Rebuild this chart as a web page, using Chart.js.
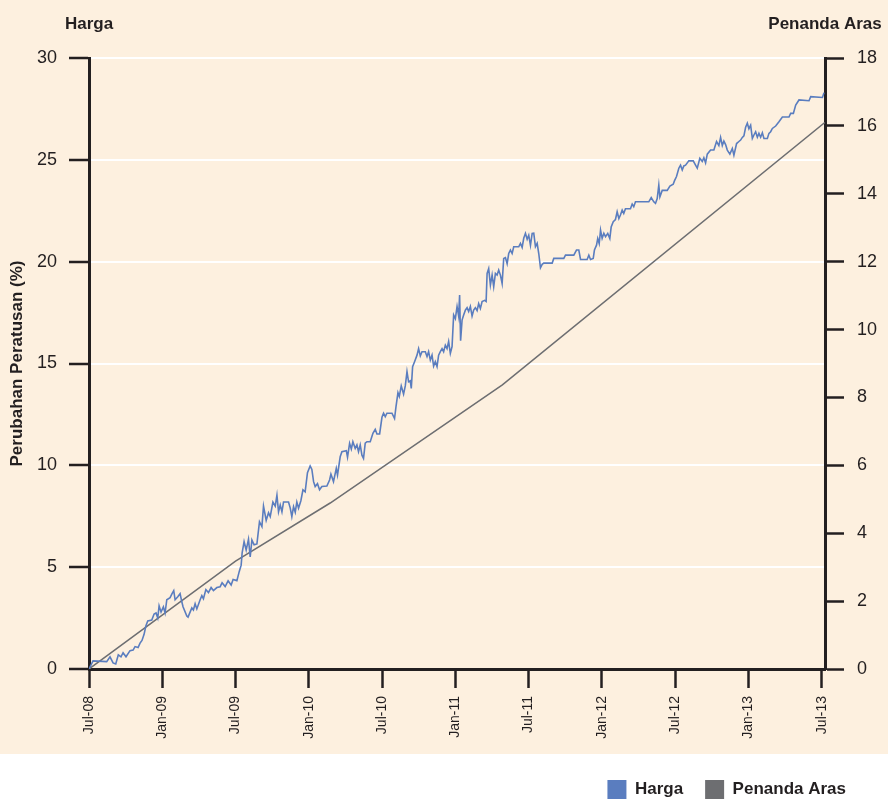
<!DOCTYPE html>
<html>
<head>
<meta charset="utf-8">
<script src="https://cdn.jsdelivr.net/npm/chart.js@4.4.0/dist/chart.umd.min.js"></script>
<style>
  html, body { margin: 0; padding: 0; background: #fff; }
  #wrap { width: 888px; height: 804px; }
</style>
</head>
<body>
<div id="wrap"><canvas id="chart" width="888" height="804"></canvas></div>
<script>
// Harga vs Penanda Aras, Jul-08 .. Jul-13

// x values are months since Jul-08
const tickLabels = ['Jul-08', 'Jan-09', 'Jul-09', 'Jan-10', 'Jul-10', 'Jan-11',
  'Jul-11', 'Jan-12', 'Jul-12', 'Jan-13', 'Jul-13'];

const hargaMonths = [
  0, 0.33, 1.45, 1.72, 1.97, 2.19, 2.40, 2.62, 2.79, 3.03, 3.36, 3.61, 3.77, 4.02, 4.18, 4.34,
  4.51, 4.65, 4.81, 5.14, 5.33, 5.49, 5.63, 5.74, 5.90, 6.09, 6.23, 6.37, 6.64, 6.80, 6.94, 7.05,
  7.27, 7.46, 7.60, 7.70, 8.01, 8.11, 8.42, 8.55, 8.69, 8.83, 9.10, 9.24, 9.37, 9.57, 9.78, 10.0,
  10.19, 10.47, 10.74, 10.90, 11.15, 11.39, 11.64, 11.80, 12.11, 12.30, 12.46, 12.54, 12.70, 12.87,
  13.06, 13.20, 13.34, 13.52, 13.75, 13.96, 14.16, 14.29, 14.51, 14.70, 14.84, 15.06, 15.25, 15.39,
  15.52, 15.66, 15.80, 15.93, 16.34, 16.48, 16.61, 16.75, 16.89, 17.02, 17.16, 17.35, 17.52, 17.70,
  17.89, 18.11, 18.25, 18.39, 18.52, 18.71, 18.88, 19.07, 19.48, 19.70, 19.81, 20.02, 20.25, 20.35,
  20.57, 20.71, 21.07, 21.17, 21.34, 21.48, 21.61, 21.80, 21.94, 22.07, 22.21, 22.35, 22.48, 22.62,
  22.76, 23.03, 23.25, 23.44, 23.58, 23.80, 23.99, 24.12, 24.26, 24.40, 24.81, 25.02, 25.14, 25.30,
  25.41, 25.57, 25.76, 25.90, 26.04, 26.17, 26.31, 26.39, 26.50, 26.66, 26.86, 26.99, 27.13, 27.27,
  27.54, 27.68, 27.81, 27.95, 28.09, 28.22, 28.36, 28.50, 28.63, 28.77, 28.91, 29.04, 29.18, 29.32,
  29.45, 29.59, 29.73, 29.86, 30.0, 30.14, 30.27, 30.35, 30.43, 30.55, 30.68, 30.82, 30.96, 31.09,
  31.23, 31.37, 31.50, 31.64, 31.78, 31.91, 32.05, 32.19, 32.40, 32.52, 32.60, 32.73, 32.87, 33.01,
  33.14, 33.28, 33.42, 33.55, 33.69, 33.83, 33.96, 34.10, 34.24, 34.37, 34.51, 34.65, 34.78, 35.19,
  35.33, 35.47, 35.60, 35.74, 35.88, 36.01, 36.15, 36.29, 36.42, 36.56, 36.70, 36.83, 36.97, 37.11,
  37.24, 37.93, 38.06, 38.88, 39.02, 39.70, 39.92, 40.11, 40.25, 40.79, 40.93, 41.07, 41.29, 41.39,
  41.56, 41.66, 41.78, 41.89, 42.02, 42.16, 42.30, 42.48, 42.65, 42.76, 42.93, 43.11, 43.25, 43.39,
  43.52, 43.66, 43.79, 43.93, 44.34, 44.48, 44.61, 44.75, 45.84, 46.04, 46.25, 46.39, 46.53, 46.66,
  46.75, 46.94, 47.35, 47.57, 47.84, 47.95, 48.11, 48.30, 48.44, 48.58, 48.71, 48.85, 49.12, 49.48,
  49.67, 49.81, 50.02, 50.22, 50.35, 50.49, 50.63, 50.90, 51.17, 51.39, 51.58, 51.72, 51.86, 51.99,
  52.13, 52.27, 52.48, 52.68, 52.81, 53.03, 53.22, 53.36, 53.50, 53.63, 53.77, 53.91, 54.04, 54.18,
  54.32, 54.45, 54.59, 54.73, 54.86, 55.0, 55.14, 55.27, 55.55, 55.68, 55.82, 55.96, 56.23, 56.50,
  56.78, 57.32, 57.46, 57.68, 57.87, 58.14, 58.96, 59.10, 60.06, 60.19
];

const hargaValues = [
  0, 0.4, 0.36, 0.6, 0.3, 0.25, 0.7, 0.6, 0.8, 0.6, 0.9, 0.93, 1.1, 1.05, 1.27, 1.4,
  1.7, 2.1, 2.36, 2.4, 2.7, 2.75, 2.5, 3.1, 2.8, 3.05, 2.75, 3.4, 3.5, 3.7, 3.85, 3.4,
  3.55, 3.7, 3.3, 3.06, 2.6, 2.55, 3.0, 2.9, 3.2, 2.95, 3.4, 3.6, 3.45, 3.9, 3.75, 4.0,
  3.85, 4.0, 4.04, 4.24, 4.05, 4.33, 4.12, 4.4, 4.34, 4.78, 5.1, 5.7, 6.25, 5.84,
  6.37, 5.5, 6.33, 6.1, 6.14, 7.23, 6.99, 8.0, 7.3, 7.67, 7.48, 8.2, 8.0, 8.54,
  7.72, 8.05, 7.72, 8.2, 8.2, 7.9, 7.48, 7.97, 7.7, 8.2, 7.9, 8.26, 8.8, 8.7,
  9.64, 9.97, 9.8, 9.2, 8.96, 9.1, 8.8, 8.96, 8.98, 9.28, 9.57, 9.2, 9.85, 9.52,
  10.42, 10.67, 10.72, 10.4, 11.08, 10.8, 11.16, 10.83, 11.0, 10.67, 11.0, 10.5, 10.34, 11.09,
  11.16, 11.16, 11.57, 11.77, 11.54, 11.54, 12.36, 12.56, 12.39, 12.56, 12.56, 12.3, 12.88, 13.57,
  13.38, 13.9, 13.5, 13.9, 14.6, 14.1, 14.15, 13.78, 14.84, 15.09, 15.41, 15.73, 15.37, 15.58,
  15.58, 15.34, 15.58, 15.17, 15.41, 14.87, 15.09, 14.85, 15.41, 15.58, 15.73, 15.58, 15.9, 15.73,
  16.08, 15.5, 15.83, 17.38, 17.2, 17.8, 17.33, 18.36, 16.12, 17.13, 17.38, 17.62, 17.74, 17.55,
  17.8, 17.33, 17.62, 17.74, 17.6, 17.94, 17.7, 18.04, 18.1, 18.05, 19.42, 19.66, 18.85, 19.34,
  18.77, 19.42, 19.34, 19.59, 19.34, 18.93, 20.16, 20.2, 19.9, 20.4, 20.57, 20.4, 20.73, 20.73,
  20.9, 20.7, 21.15, 21.39, 21.1, 21.3, 20.8, 21.39, 21.4, 20.74, 20.9, 20.4, 19.7, 19.87,
  19.93, 19.93, 20.16, 20.16, 20.32, 20.32, 20.57, 20.57, 20.11, 20.11, 20.32, 20.11, 20.16, 20.57,
  20.81, 21.14, 20.89, 21.55, 21.14, 21.39, 21.23, 21.39, 21.14, 21.7, 21.96, 22.07, 22.45, 22.12,
  22.29, 22.53, 22.37, 22.6, 22.6, 22.83, 22.7, 22.94, 22.94, 23.15, 22.94, 22.86, 23.1, 23.76,
  23.18, 23.5, 23.5, 23.71, 23.8, 23.98, 24.18, 24.59, 24.74, 24.5, 24.7, 24.74, 24.95, 24.95,
  24.74, 24.59, 25.08, 24.92, 25.1, 24.85, 25.28, 25.48, 25.48, 25.9, 25.7, 26.1, 25.7, 25.92,
  25.75, 25.48, 25.28, 25.56, 25.23, 25.8, 25.9, 25.97, 26.1, 26.18, 26.6, 26.8, 26.53, 26.7,
  26.05, 26.22, 26.38, 26.11, 26.3, 26.11, 26.33, 26.05, 26.05, 26.3, 26.38, 26.54, 26.66, 26.87,
  27.1, 27.1, 27.28, 27.28, 27.69, 27.94, 27.9, 28.1, 28.06, 28.3
];

// Penanda Aras is read on the right axis (0-18)
const benchMonths = [0, 12, 19.75, 33.85, 60.25];
const benchValues = [0, 3.18, 4.89, 8.37, 16.1];

const INK = '#231f20';
const CREAM = '#fdf0df';
const BLUE = '#5a7dbf';
const GREY = '#6d6e71';
const FONT = '"Liberation Sans", Arial, sans-serif';

Chart.defaults.font.family = FONT;
Chart.defaults.color = INK;

const toPoints = (xs, ys) => xs.map((x, i) => ({ x, y: ys[i] }));

// cream panel, white strip for the legend, and the two captions over the axes
const framePlugin = {
  id: 'frame',
  beforeDraw(chart) {
    const { ctx, width, height } = chart;
    ctx.save();
    ctx.fillStyle = '#fff';
    ctx.fillRect(0, 0, width, height);
    ctx.fillStyle = CREAM;
    ctx.fillRect(0, 0, width, 754);
    ctx.restore();
  },
  afterLayout(chart) {
    // legend sits a little lower and away from the right edge
    const lg = chart.legend;
    lg.right -= 20;
    lg.top += 5;
    lg.bottom += 5;
  },
  afterDraw(chart) {
    const { ctx, scales } = chart;
    ctx.save();
    ctx.font = 'bold 17px ' + FONT;
    ctx.fillStyle = INK;
    ctx.textAlign = 'center';
    ctx.textBaseline = 'alphabetic';
    ctx.fillText('Harga', scales.y.right, 29);
    ctx.fillText('Penanda Aras', scales.y1.left, 29);
    ctx.restore();
  },
};

new Chart(document.getElementById('chart'), {
  type: 'line',
  data: {
    datasets: [
      {
        label: 'Harga',
        data: toPoints(hargaMonths, hargaValues),
        yAxisID: 'y',
        borderColor: BLUE,
        backgroundColor: BLUE,
        borderWidth: 1.6,
        pointRadius: 0,
        tension: 0,
      },
      {
        label: 'Penanda Aras',
        data: toPoints(benchMonths, benchValues),
        yAxisID: 'y1',
        borderColor: GREY,
        backgroundColor: GREY,
        borderWidth: 1.5,
        pointRadius: 0,
        tension: 0,
      },
    ],
  },
  options: {
    responsive: false,
    animation: false,
    devicePixelRatio: 1,
    layout: { padding: { top: 58, left: 0, right: 0, bottom: 0 } },
    scales: {
      x: {
        type: 'linear',
        min: 0,
        max: 60.27,
        border: { color: INK, width: 3 },
        grid: { drawOnChartArea: false, tickLength: 19, tickColor: INK, tickWidth: 2.5 },
        ticks: {
          stepSize: 6,
          includeBounds: false,
          autoSkip: false,
          minRotation: 90,
          maxRotation: 90,
          padding: 8,
          font: { size: 14 },
          callback: (v) => tickLabels[Math.round(v / 6)],
        },
        afterFit: (scale) => { scale.height = 84; },
      },
      y: {
        position: 'left',
        min: 0,
        max: 30,
        border: { color: INK, width: 3 },
        grid: { color: '#ffffff', lineWidth: 2, tickLength: 20, tickColor: INK, tickWidth: 2.5 },
        ticks: { stepSize: 5, padding: 12, font: { size: 18 } },
        title: {
          display: true,
          text: 'Perubahan Peratusan (%)',
          font: { size: 17, weight: 'bold' },
          padding: { top: 7, bottom: 0 },
        },
        afterFit: (scale) => { scale.width = 89; },
      },
      y1: {
        position: 'right',
        min: 0,
        max: 18,
        border: { color: INK, width: 3 },
        grid: { drawOnChartArea: false, tickLength: 19, tickColor: INK, tickWidth: 2.5 },
        ticks: { stepSize: 2, padding: 13, font: { size: 18 } },
        afterFit: (scale) => { scale.width = 63; },
      },
    },
    plugins: {
      tooltip: { enabled: false },
      legend: {
        position: 'bottom',
        align: 'end',
        labels: {
          boxWidth: 19,
          boxHeight: 19,
          padding: 22,
          color: INK,
          font: { size: 17, weight: 'bold' },
          generateLabels: (chart) =>
            Chart.defaults.plugins.legend.labels.generateLabels(chart)
              .map((item) => ({ ...item, lineWidth: 0 })),
        },
      },
    },
  },
  plugins: [framePlugin],
});
</script>
</body>
</html>
